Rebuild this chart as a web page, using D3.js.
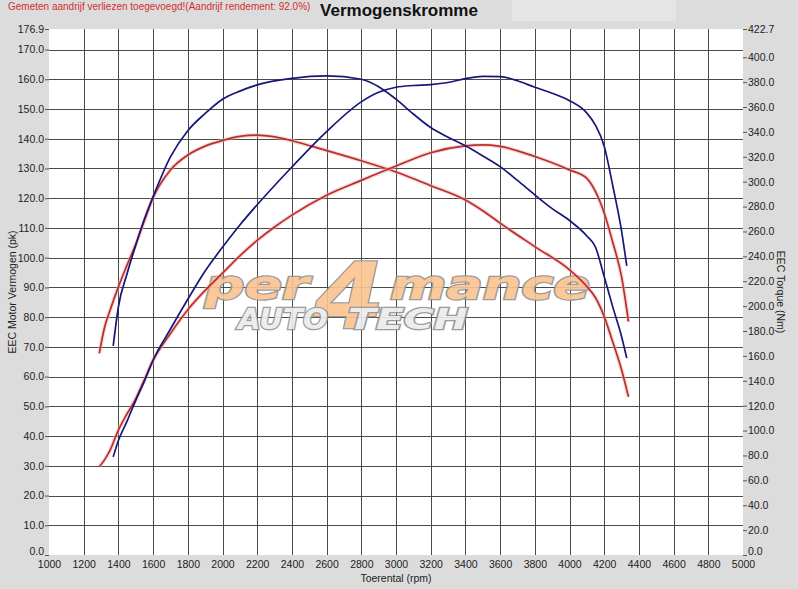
<!DOCTYPE html>
<html>
<head>
<meta charset="utf-8">
<script src="https://cdn.jsdelivr.net/npm/d3@7"></script>
<style>
  body { margin: 0; background: #dcdcdc; }
  svg { display: block; font-family: Arial, "Liberation Sans", sans-serif; }
</style>
</head>
<body>
<svg id="chart"></svg>
<script>
// tuned run (blue)
const rpmTuned = [1370, 1400, 1450, 1500, 1550, 1600, 1700, 1800, 1900, 2000, 2100, 2200, 2400, 2600, 2800, 2900, 3000, 3100, 3200, 3300, 3400, 3500, 3600, 3700, 3800, 3900, 4000, 4100, 4150, 4200, 4250, 4300, 4330]
const powerTuned = [33.0, 38.5, 45.0, 52.0, 58.5, 65.5, 76.0, 86.0, 95.5, 103.5, 111.0, 117.8, 130.5, 142.4, 152.4, 155.6, 157.3, 157.9, 158.2, 158.9, 160.2, 161.0, 160.9, 159.5, 157.3, 155.3, 152.8, 148.6, 144.5, 137.5, 124.0, 109.0, 97.2]
const torqueTuned = [168.0, 199.5, 226.0, 249.0, 270.0, 288.0, 320.0, 341.0, 354.8, 366.3, 372.8, 377.8, 383.0, 385.0, 382.3, 376.3, 366.3, 354.4, 343.5, 335.7, 328.8, 320.7, 312.1, 301.0, 289.4, 278.4, 268.8, 256.4, 247.3, 223.7, 199.0, 175.6, 158.2]

// stock run (red)
const rpmStock = [1290, 1320, 1350, 1400, 1450, 1500, 1550, 1600, 1700, 1800, 1900, 2000, 2100, 2200, 2300, 2400, 2600, 2800, 3000, 3200, 3400, 3500, 3600, 3800, 4000, 4100, 4150, 4200, 4250, 4300, 4340]
const powerStock = [29.7, 32.0, 35.0, 42.0, 47.5, 52.5, 59.0, 65.5, 74.5, 82.5, 89.0, 94.8, 100.6, 105.8, 110.3, 114.3, 121.0, 126.0, 130.8, 135.3, 137.6, 137.9, 137.4, 134.0, 129.5, 126.7, 122.2, 115.0, 105.0, 93.6, 78.5]
const torqueStock = [162.0, 182.8, 195.9, 215.5, 233.0, 249.7, 268.8, 287.2, 309.4, 321.4, 328.6, 333.1, 336.4, 337.4, 336.0, 332.9, 325.0, 316.8, 307.8, 296.8, 285.3, 276.7, 266.7, 247.8, 229.2, 215.8, 206.7, 191.6, 170.9, 148.9, 127.1]

const xTicks = d3.range(1000, 5001, 200)
const leftTicks = [0, 10, 20, 30, 40, 50, 60, 70, 80, 90, 100, 110, 120, 130, 140, 150, 160, 170, 176.9]
const rightTicks = [0, 20, 40, 60, 80, 100, 120, 140, 160, 180, 200, 220, 240, 260, 280, 300, 320, 340, 360, 380, 400, 422.7]

const width = 798
const height = 589
const plotLeft = 49, plotRight = 743, plotTop = 29, plotBottom = 555

const svg = d3.select("#chart").attr("width", width).attr("height", height)

svg.append("rect").attr("width", width).attr("height", height).attr("fill", "#dcdcdc")
// title box
svg.append("rect").attr("x", 512).attr("y", 0).attr("width", 164).attr("height", 21).attr("fill", "#e6e5e6")

const xScale = d3.scaleLinear().domain([1000, 5000]).range([plotLeft, plotRight])
const yLeft = d3.scaleLinear().domain([0, 176.9]).range([plotBottom, plotTop])
const yRight = d3.scaleLinear().domain([0, 422.7]).range([plotBottom, plotTop])

svg.append("rect")
  .attr("x", plotLeft).attr("y", plotTop)
  .attr("width", plotRight - plotLeft).attr("height", plotBottom - plotTop)
  .attr("fill", "#fff")

// grid
svg.append("g")
  .selectAll("line")
  .data(xTicks.filter(d => d > 1000 && d < 5000))
  .enter()
  .append("line")
  .attr("x1", d => Math.round(xScale(d)) + 0.5).attr("x2", d => Math.round(xScale(d)) + 0.5)
  .attr("y1", plotTop).attr("y2", plotBottom)
  .attr("stroke", "#4a4a4a").attr("stroke-width", 1)

svg.append("g")
  .selectAll("line")
  .data(leftTicks.filter(d => d > 0 && d < 176.9))
  .enter()
  .append("line")
  .attr("x1", plotLeft).attr("x2", plotRight)
  .attr("y1", d => Math.round(yLeft(d)) + 0.5).attr("y2", d => Math.round(yLeft(d)) + 0.5)
  .attr("stroke", "#4a4a4a").attr("stroke-width", 1)

// watermark
const wm = svg.append("g").attr("font-family", "'DejaVu Sans', sans-serif").attr("font-weight", "bold")
  .attr("font-style", "italic").attr("stroke", "#929292").attr("stroke-width", 2.5).attr("paint-order", "stroke")
  .attr("opacity", 0.9)
wm.append("text").attr("x", 205).attr("y", 299).attr("font-size", 40).attr("textLength", 104)
  .attr("lengthAdjust", "spacingAndGlyphs").attr("fill", "#fbc48f").text("per")
wm.append("text").attr("x", 314).attr("y", 328).attr("font-size", 90).attr("textLength", 70)
  .attr("lengthAdjust", "spacingAndGlyphs").attr("fill", "#fbc48f").text("4")
wm.append("text").attr("x", 390).attr("y", 299).attr("font-size", 40).attr("textLength", 200)
  .attr("lengthAdjust", "spacingAndGlyphs").attr("fill", "#fbc48f").text("mance")
wm.append("text").attr("x", 238).attr("y", 329).attr("font-size", 28).attr("textLength", 90)
  .attr("lengthAdjust", "spacingAndGlyphs").attr("fill", "#ececec").text("AUTO")
wm.append("text").attr("x", 348).attr("y", 329).attr("font-size", 28).attr("textLength", 120)
  .attr("lengthAdjust", "spacingAndGlyphs").attr("fill", "#ececec").text("TECH")

// curves
const blue = "#17177a"
const red = "#b8302c"

function drawCurve(rpm, values, yScale, color, glow) {
  const pts = rpm.map((r, i) => [r, values[i]])
  const line = d3.line().x(d => xScale(d[0])).y(d => yScale(d[1])).curve(d3.curveMonotoneX)
  if (glow) {
    svg.append("path").datum(pts).attr("fill", "none")
      .attr("stroke", glow).attr("stroke-width", 4).attr("stroke-opacity", 0.5)
      .attr("d", line)
  }
  svg.append("path").datum(pts).attr("fill", "none")
    .attr("stroke", color).attr("stroke-width", 1.7)
    .attr("d", line)
}

drawCurve(rpmStock, torqueStock, yRight, red, "#f4b0b0")
drawCurve(rpmStock, powerStock, yLeft, red, "#f4b0b0")
drawCurve(rpmTuned, torqueTuned, yRight, blue, null)
drawCurve(rpmTuned, powerTuned, yLeft, blue, null)

// axes
const leftAxis = d3.axisLeft(yLeft).tickValues(leftTicks).tickSize(4).tickPadding(1)
  .tickFormat(d => d.toFixed(1))
const rightAxis = d3.axisRight(yRight).tickValues(rightTicks).tickSize(4).tickPadding(1)
  .tickFormat(d => d.toFixed(1))
const bottomAxis = d3.axisBottom(xScale).tickValues(xTicks).tickSize(0).tickPadding(6)
  .tickFormat(d3.format("d"))

function styleAxis(g) {
  g.select(".domain").remove()
  g.selectAll("line").attr("stroke", "#555")
  g.selectAll("text").attr("fill", "#222").attr("font-size", 10.5).attr("font-family", "Arial, 'Liberation Sans', sans-serif")
}

const gl = svg.append("g").attr("transform", "translate(" + plotLeft + ",0)").call(leftAxis).call(styleAxis)
const gr = svg.append("g").attr("transform", "translate(" + plotRight + ",0)").call(rightAxis).call(styleAxis)
svg.append("g").attr("transform", "translate(0," + plotBottom + ")").call(bottomAxis).call(styleAxis)

// lift the corner 0.0 labels a little, like the original
gl.selectAll(".tick").filter(d => d === 0).select("text").attr("dy", "-0.05em")
gr.selectAll(".tick").filter(d => d === 0).select("text").attr("dy", "-0.05em")

// labels
svg.append("text").attr("x", 8).attr("y", 10).attr("font-size", 10).attr("fill", "#d12f2f")
  .text("Gemeten aandrijf verliezen toegevoegd!(Aandrijf rendement: 92.0%)")

svg.append("text").attr("x", 399).attr("y", 16).attr("text-anchor", "middle")
  .attr("font-size", 17).attr("font-weight", "bold").attr("fill", "#111")
  .text("Vermogenskromme")

svg.append("text").attr("x", 396).attr("y", 582).attr("text-anchor", "middle")
  .attr("font-size", 10.5).attr("fill", "#222").text("Toerental (rpm)")

svg.append("text").attr("transform", "translate(16," + (plotTop + plotBottom) / 2 + ") rotate(-90)")
  .attr("text-anchor", "middle").attr("font-size", 10.5).attr("fill", "#222")
  .text("EEC Motor Vermogen (pk)")

svg.append("text").attr("transform", "translate(777," + (plotTop + plotBottom) / 2 + ") rotate(90)")
  .attr("text-anchor", "middle").attr("font-size", 10.5).attr("fill", "#222")
  .text("EEC Torque (Nm)")
</script>
</body>
</html>
